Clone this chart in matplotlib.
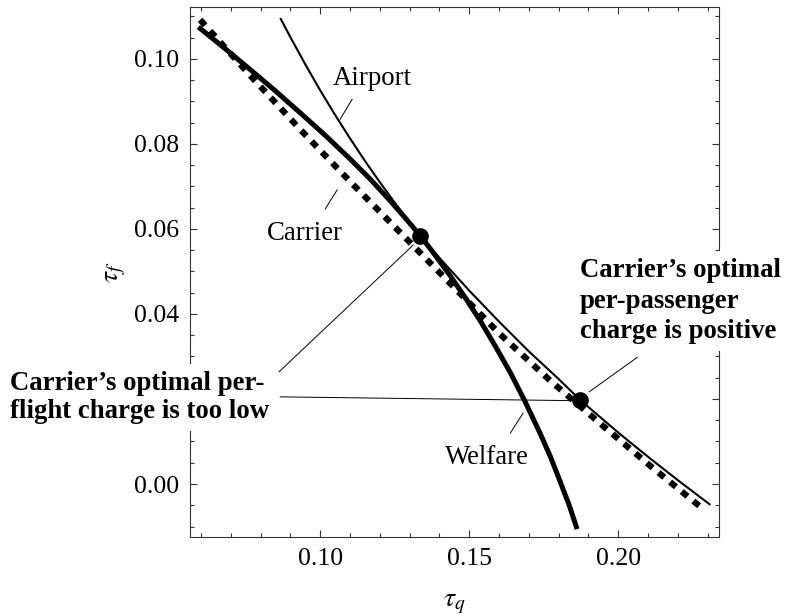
import matplotlib
matplotlib.use("Agg")
import matplotlib.pyplot as plt
from matplotlib.ticker import MultipleLocator

plt.rcParams['font.family'] = ['Liberation Serif', 'DejaVu Serif']
plt.rcParams['mathtext.fontset'] = 'stix'

# Reaction curves in the (tau_q, tau_f) plane
welfare_tq = [0.0591, 0.0681, 0.0765, 0.0849, 0.0933, 0.1017, 0.1101, 0.1168, 0.1235,
              0.1285, 0.1336, 0.1386, 0.1436, 0.1487, 0.1537, 0.1587, 0.1638, 0.1688,
              0.1738, 0.1772, 0.1805, 0.1836, 0.1862]
welfare_tf = [0.1075, 0.1024, 0.0975, 0.0925, 0.0873, 0.0820, 0.0764, 0.0717, 0.0666,
              0.0626, 0.0584, 0.0538, 0.0490, 0.0438, 0.0384, 0.0325, 0.0262, 0.0193,
              0.0119, 0.0065, 0.0006, -0.0051, -0.0106]

carrier_tq = [0.0597, 0.0765, 0.0933, 0.1101, 0.1268, 0.1436, 0.1604, 0.1772, 0.1940, 0.2107, 0.2285]
carrier_tf = [0.1092, 0.0961, 0.0834, 0.0711, 0.0592, 0.0472, 0.0352, 0.0243, 0.0142, 0.0043, -0.0059]

airport_tq = [0.0866, 0.09, 0.095, 0.10, 0.105, 0.11, 0.115, 0.12, 0.125, 0.13, 0.1336,
              0.14, 0.15, 0.16, 0.17, 0.18, 0.1872, 0.19, 0.20, 0.21, 0.22, 0.2309]
airport_tf = [0.1096, 0.1051, 0.0987, 0.0926, 0.0868, 0.0813, 0.0760, 0.0710, 0.0662, 0.0616, 0.0584,
              0.0532, 0.0455, 0.0382, 0.0312, 0.0247, 0.0198, 0.0181, 0.0121, 0.0064, 0.0009, -0.0049]

# Welfare optimum and carrier optimum
optima_tq = [0.1336, 0.1872]
optima_tf = [0.0584, 0.0197]

x_ticks = [0.10, 0.15, 0.20]
x_tick_labels = ['0.10', '0.15', '0.20']
y_ticks = [0.00, 0.02, 0.04, 0.06, 0.08, 0.10]
y_tick_labels = ['0.00', '', '0.04', '0.06', '0.08', '0.10']

fig = plt.figure(figsize=(7.86, 6.15), dpi=100)
ax = fig.add_axes([0.2417, 0.1268, 0.6730, 0.8618])

ax.plot(welfare_tq, welfare_tf, color='black', lw=3.6, solid_capstyle='butt',
        solid_joinstyle='round', zorder=3)
ax.plot(airport_tq, airport_tf, color='black', lw=1.5, solid_capstyle='butt',
        solid_joinstyle='round', zorder=3)
ax.plot(carrier_tq, carrier_tf, color='black', lw=4.5, linestyle=(0, (1.2, 1.2)),
        dash_capstyle='butt', zorder=3)
ax.plot(optima_tq, optima_tf, 'o', color='black', markersize=11, zorder=5)

ax.set_xlim(0.0563, 0.2338)
ax.set_ylim(-0.01247, 0.1122)

ax.set_xticks(x_ticks)
ax.set_xticklabels(x_tick_labels)
ax.set_yticks(y_ticks)
ax.set_yticklabels(y_tick_labels)
ax.xaxis.set_minor_locator(MultipleLocator(0.01))
ax.yaxis.set_minor_locator(MultipleLocator(0.005))
ax.tick_params(which='both', direction='in', top=True, right=True,
               color='#333333', width=0.8, labelsize=18.5, pad=8)
ax.tick_params(which='major', length=5)
ax.tick_params(which='minor', length=2.7)
for sp in ax.spines.values():
    sp.set_color('#333333')
    sp.set_linewidth(0.8)

ax.set_xlabel(r'$\tau_q$', fontsize=20)
ax.set_ylabel(r'$\tau_f$', fontsize=20, rotation=90)
ax.xaxis.set_label_coords(0.5, -0.125)
ax.xaxis.label.set_va('center')
ax.yaxis.set_label_coords(-0.14, 0.5)
ax.yaxis.label.set_va('center')

lbl = dict(fontsize=19.3, color='black', zorder=6)
ax.text(0.1174, 0.0939, 'Airport', ha='center', va='baseline', **lbl)
ax.text(0.0948, 0.0574, 'Carrier', ha='center', va='baseline', **lbl)
ax.text(0.1559, 0.0047, 'Welfare', ha='center', va='baseline', **lbl)

ptr = dict(color='black', lw=0.7, zorder=4, clip_on=False)
ax.plot([0.1107, 0.1067], [0.0905, 0.0858], **ptr)
ax.plot([0.1057, 0.1017], [0.0692, 0.0647], **ptr)
ax.plot([0.1681, 0.1638], [0.0167, 0.0120], **ptr)
ax.plot([0.0862, 0.1312], [0.0264, 0.0562], **ptr)
ax.plot([0.0866, 0.1856], [0.0205, 0.0196], **ptr)
ax.plot([0.2064, 0.1903], [0.0298, 0.0217], **ptr)

box = dict(boxstyle='square,pad=0.25', facecolor='white', edgecolor='none')
ax.text(-0.0040, 0.0266, "Carrier\u2019s optimal per-\nflight charge is too low",
        ha='left', va='top', fontsize=19.3, fontweight='bold', linespacing=1.16,
        bbox=box, zorder=10, clip_on=False)
ax.text(0.1872, 0.0532, "Carrier\u2019s optimal\nper-passenger\ncharge is positive",
        ha='left', va='top', fontsize=19.3, fontweight='bold', linespacing=1.3,
        bbox=box, zorder=10, clip_on=False)

fig.savefig('out.png', dpi=100)
